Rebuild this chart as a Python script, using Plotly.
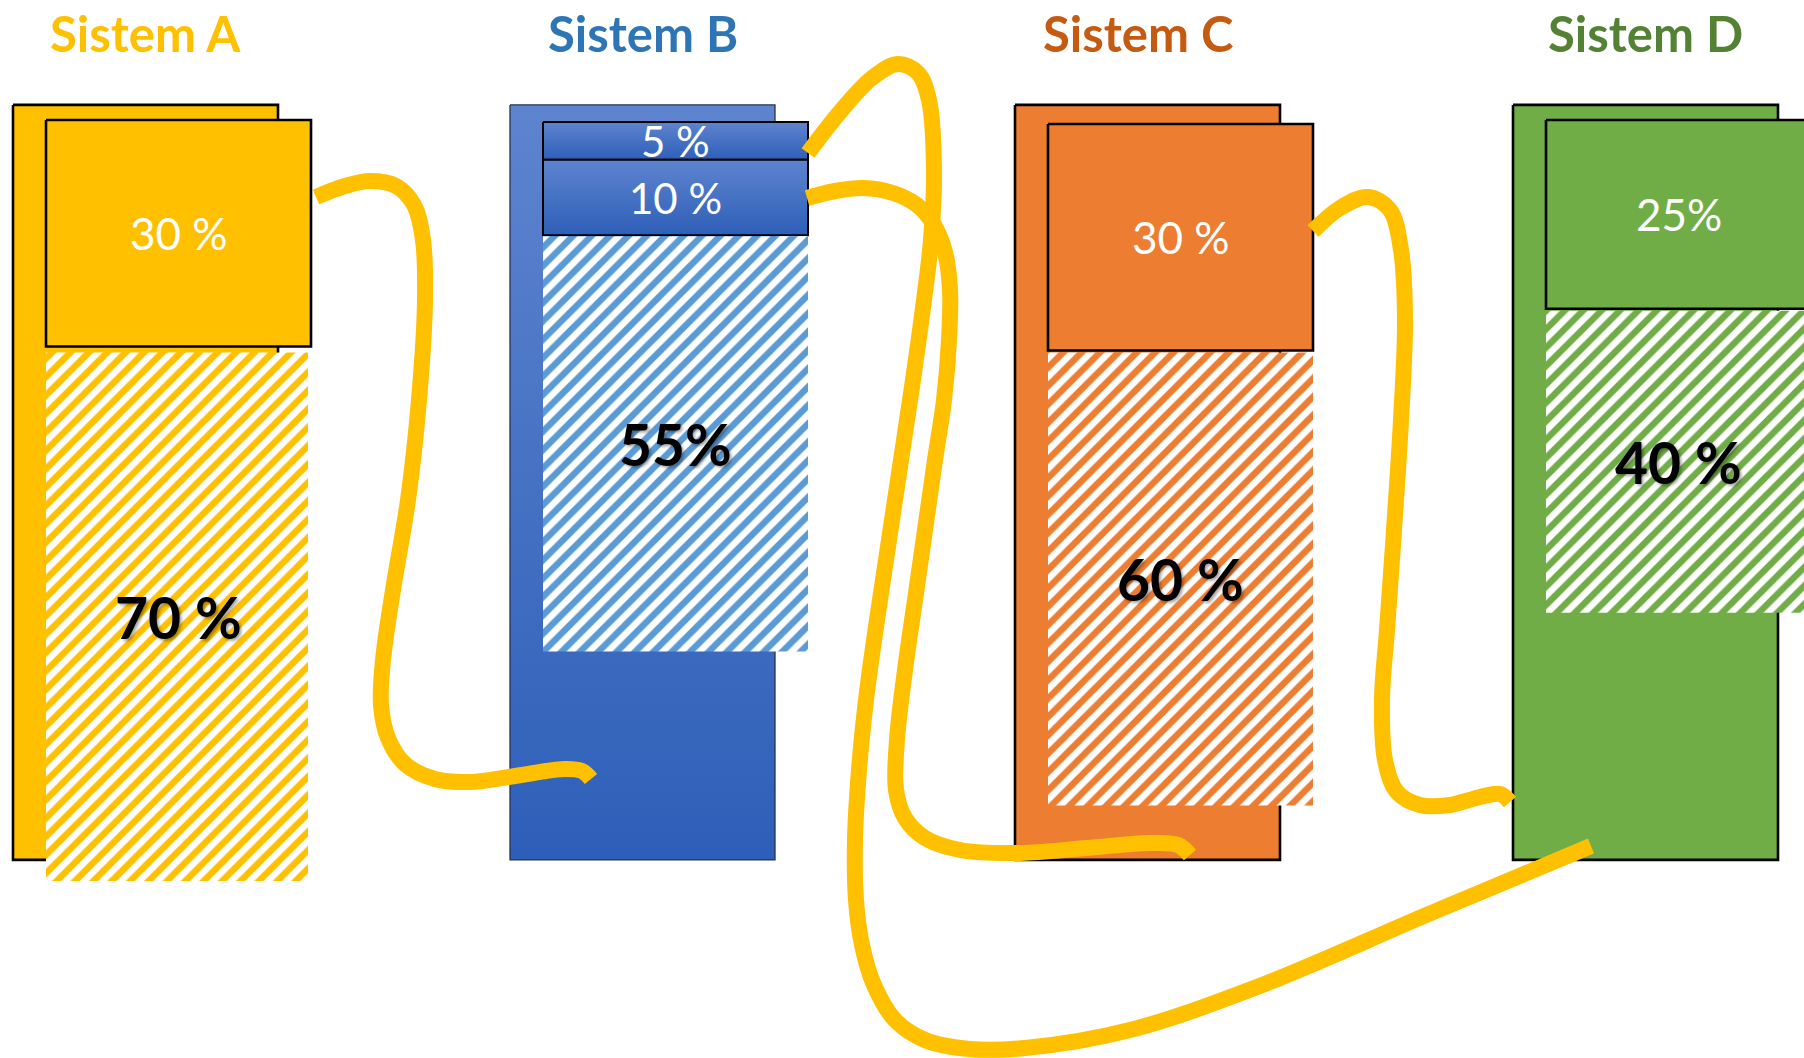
import plotly.graph_objects as go

# ---------------- data ----------------
systems = ["Sistem A", "Sistem B", "Sistem C", "Sistem D"]
title_colors = ["#FFC000", "#2E75B6", "#C55A11", "#548235"]
main_colors = ["#FFC000", "#4472C4", "#ED7D31", "#70AD47"]
hatch_colors = ["#FFC000", "#5B9BD5", "#ED7D31", "#70AD47"]
solid_values = [[30], [5, 10], [30], [25]]
solid_labels = [["30 %"], ["5 %", "10 %"], ["30 %"], ["25%"]]
hatched_values = [70, 55, 60, 40]
hatched_labels = ["70 %", "55%", "60 %", "40 %"]
back_total = 100

# connector paths (pixel space of the 1804x1058 canvas)
path_a_b_x = [316, 345, 370, 396, 414, 423, 425, 419, 408, 393, 383, 381, 388, 405, 435, 470, 515,
              565, 582, 591]
path_a_b_y = [197, 186, 181, 186, 205, 240, 300, 400, 500, 590, 660, 705, 738, 764, 779, 782, 776,
              769, 771, 779]
path_b_d_x = [808, 840, 872, 898, 918, 929, 934, 931, 924, 913, 901, 889, 877, 866, 859,
              855, 856, 862, 874, 895, 925, 970, 1025, 1130, 1257, 1431, 1591]
path_b_d_y = [153, 112, 78, 64, 73, 100, 170, 240, 300, 380, 460, 540, 620, 700, 770,
              840, 900, 945, 985, 1020, 1040, 1049, 1048, 1030, 987, 913, 846]
path_b_c_x = [807, 835, 863, 893, 917, 934, 945, 950, 949, 944, 935, 925, 915, 905, 897, 896, 905,
              925, 960, 1020, 1087, 1150, 1178, 1190]
path_b_c_y = [198, 191, 188, 193, 205, 225, 252, 290, 340, 400, 460, 530, 600, 670, 740, 790, 818,
              838, 850, 853, 848, 843, 845, 855]
path_c_d_x = [1313, 1340, 1368, 1390, 1401, 1405, 1401, 1394, 1387, 1382, 1385, 1397, 1420, 1450,
              1480, 1500, 1510]
path_c_d_y = [231, 208, 197, 210, 250, 320, 420, 530, 630, 700, 760, 792, 805, 805, 797, 794, 802]
paths = [(path_a_b_x, path_a_b_y), (path_b_d_x, path_b_d_y),
         (path_b_c_x, path_b_c_y), (path_c_d_x, path_c_d_y)]

# ---------------- layout constants ----------------
W, H = 1804, 1058
PX = 7.55          # pixels per percent
TOP = 120.0        # pixel row of 0 %
BACK_X0 = [13, 510, 1015, 1513]
TITLE_DX = [0, 0, -10, 0]
BOX_W = 265
FORE_DX = 33
STACK_SHIFT = [0, 2, 4, 0]
GAP = [6, 1, 2, 2]
BACK_START = -2.0
CURVE_COLOR = "#FFC000"
BLUE_LIGHT, BLUE_DARK = "#5E84CF", "#2E5FB8"


def pct(px):
    return (px - TOP) / PX


fig = go.Figure()


def rect(x0, x1, y0, y1, **kw):
    fig.add_trace(go.Scatter(x=[x0, x1, x1, x0, x0], y=[y0, y0, y1, y1, y0],
                             fill="toself", hoverinfo="skip", showlegend=False,
                             xaxis="x", yaxis="y", **kw))


annotations = []
for i, name in enumerate(systems):
    bx0 = BACK_X0[i]
    bx1 = bx0 + BOX_W
    fx0 = bx0 + FORE_DX
    fx1 = fx0 + BOX_W
    is_blue = i == 1
    # background (100 %) box
    if is_blue:
        rect(bx0, bx1, BACK_START, BACK_START + back_total, mode="lines",
             line=dict(color="#26344F", width=1.3),
             fillgradient=dict(type="vertical", start=BACK_START, stop=BACK_START + back_total,
                               colorscale=[[0, BLUE_LIGHT], [1, BLUE_DARK]]))
    else:
        rect(bx0, bx1, BACK_START, BACK_START + back_total, mode="lines",
             fillcolor=main_colors[i], line=dict(color="black", width=2.6))
    # solid stacked segments
    start = STACK_SHIFT[i] / PX
    for v, lab in zip(solid_values[i], solid_labels[i]):
        y0, y1 = start, start + v
        if is_blue:
            rect(fx0, fx1, y0, y1, mode="lines", line=dict(color="black", width=2),
                 fillgradient=dict(type="vertical", start=y0, stop=y1,
                                   colorscale=[[0, BLUE_LIGHT], [1, BLUE_DARK]]))
        else:
            rect(fx0, fx1, y0, y1, mode="lines", fillcolor=main_colors[i],
                 line=dict(color="black", width=2.6))
        annotations.append(dict(x=(fx0 + fx1) / 2, y=(y0 + y1) / 2, xref="x", yref="y",
                                text=lab, showarrow=False, xanchor="center", yanchor="middle",
                                font=dict(family="Lato", size=42 if is_blue else 44, color="white")))
        start = y1
    # hatched segment
    y0 = start + GAP[i] / PX
    y1 = y0 + hatched_values[i]
    hx1 = fx1 - (3 if i == 0 else 0)
    rect(fx0, hx1, y0, y1, mode="none", fillcolor="white",
         fillpattern=dict(shape="/", fgcolor=hatch_colors[i], bgcolor="white",
                          fgopacity=1, size=13, solidity=0.5))
    annotations.append(dict(x=(fx0 + fx1) / 2, y=(y0 + y1) / 2, xref="x", yref="y",
                            text=hatched_labels[i], showarrow=False,
                            xanchor="center", yanchor="middle",
                            font=dict(family="Lato", size=57, color="black", weight="bold",
                                      shadow="2px 2px 3px rgba(0,0,0,0.35)")))
    # title (centred over the background box)
    annotations.append(dict(x=(bx0 + bx1) / 2 + TITLE_DX[i], y=33, xref="x", yref="y2",
                            text=name, showarrow=False, xanchor="center", yanchor="middle",
                            font=dict(family="Lato", size=49, color=title_colors[i],
                                      weight="bold")))

# connectors
for px_, py_ in paths:
    fig.add_trace(go.Scatter(x=px_, y=py_, mode="lines", xaxis="x", yaxis="y2",
                             line=dict(color=CURVE_COLOR, width=16, shape="spline", smoothing=1.0),
                             hoverinfo="skip", showlegend=False))

fig.update_layout(
    width=W, height=H, margin=dict(l=0, r=0, t=0, b=0),
    paper_bgcolor="white", plot_bgcolor="white",
    xaxis=dict(range=[0, W], visible=False, fixedrange=True),
    yaxis=dict(range=[pct(H), pct(0)], visible=False, fixedrange=True),
    yaxis2=dict(range=[H, 0], visible=False, overlaying="y", fixedrange=True),
    annotations=annotations,
    showlegend=False,
)

fig.write_html("out.html", config={"displayModeBar": False},
               post_script="document.body.style.margin='0';document.body.style.overflow='hidden';")
